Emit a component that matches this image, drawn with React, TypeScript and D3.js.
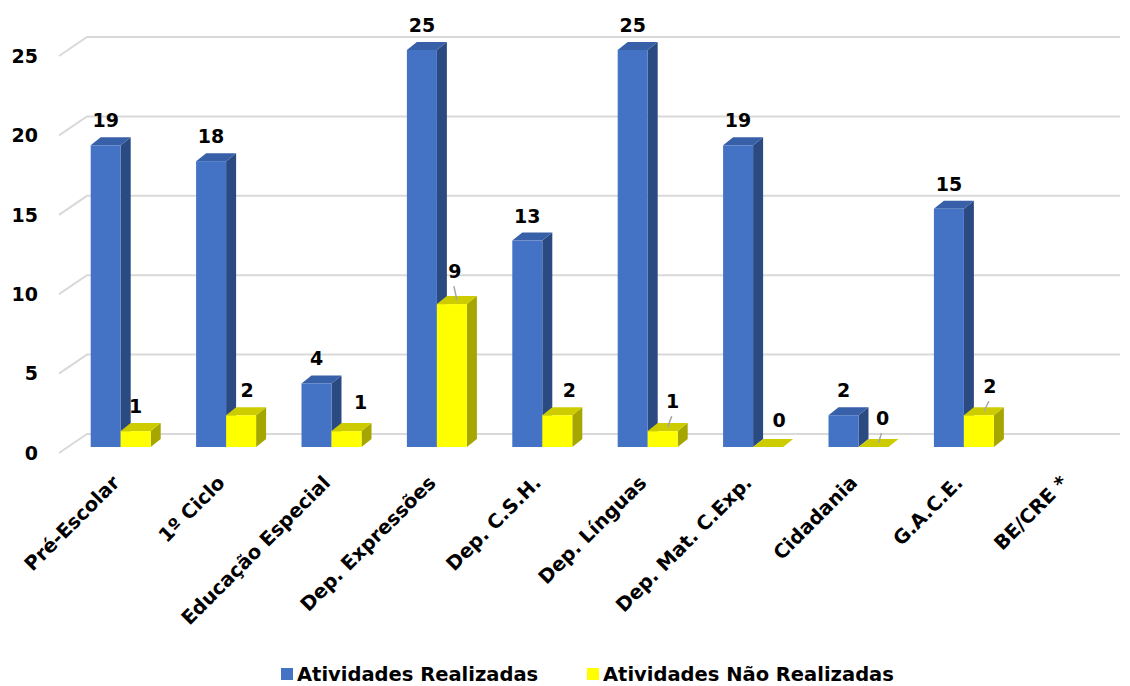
import * as d3 from 'd3';

// chart data
const CATEGORIES = [
  'Pré-Escolar',
  '1º Ciclo',
  'Educação Especial',
  'Dep. Expressões',
  'Dep. C.S.H.',
  'Dep. Línguas',
  'Dep. Mat. C.Exp.',
  'Cidadania',
  'G.A.C.E.',
  'BE/CRE *',
];
const SERIES = ['Atividades Realizadas', 'Atividades Não Realizadas'];
const REALIZADAS = [19, 18, 4, 25, 13, 25, 19, 2, 15, null];
const NAO_REALIZADAS = [1, 2, 1, 9, 2, 1, 0, 0, 2, null];
const Y_TICKS = [0, 5, 10, 15, 20, 25];

// rendering setup
const W = 1130;
const H = 686;
const FONT = "'DejaVu Sans', Verdana, sans-serif";
const DEPTH = { X: 10, Y: 8 };
const WALL = { X: 28, FRONT: 6, BACK: 13 };
const COLORS = [
  { FRONT: '#4472c4', TOP: '#3760a8', SIDE: '#2c4a82' },
  { FRONT: '#ffff00', TOP: '#cccc00', SIDE: '#a6a600' },
];
const LEGEND_X = [281, 587];
// label nudges for the yellow series (dx, dy, leader line)
const YELLOW_LABEL = [
  [0, 0, false],
  [6, 0, false],
  [14, -4, false],
  [3, -8, true],
  [12, 0, false],
  [10, -5, true],
  [11, -2, false],
  [9, -4, true],
  [11, -4, true],
  [0, 0, false],
];

const x = d3.scaleBand<string>().domain(CATEGORIES).range([68, 1122]).padding(0);
const xSub = d3.scaleBand<string>().domain(SERIES).range([0, 60]).padding(0);
const y = d3.scaleLinear().domain([0, 25]).range([447, 50]);

const Bar = ({ x0, w, v, c }: { x0: number; w: number; v: number; c: typeof COLORS[0] }) => {
  const y0 = y(0);
  const y1 = y(v);
  const top = `M${x0},${y1} L${x0 + DEPTH.X},${y1 - DEPTH.Y} L${x0 + w + DEPTH.X},${y1 - DEPTH.Y} L${x0 + w},${y1} Z`;
  const side = `M${x0 + w},${y1} L${x0 + w + DEPTH.X},${y1 - DEPTH.Y} L${x0 + w + DEPTH.X},${y0 - DEPTH.Y} L${x0 + w},${y0} Z`;
  return (
    <g>
      {v > 0 && <path d={side} fill={c.SIDE} />}
      <path d={top} fill={c.TOP} />
      {v > 0 && <rect x={x0} y={y1} width={w} height={y0 - y1} fill={c.FRONT} />}
    </g>
  );
};

export default function App() {
  const bw = x.bandwidth();
  const pad = (bw - 60) / 2;
  const sw = xSub.bandwidth();
  const seriesValues = [REALIZADAS, NAO_REALIZADAS];

  return (
    <svg width={W} height={H} style={{ display: 'block', position: 'absolute', left: 0, top: 0 }} fontFamily={FONT}>
      <rect width={W} height={H} fill="#ffffff" />
      {/* gridlines: diagonal on the side wall, then along the back wall */}
      <g stroke="#d9d9d9" strokeWidth={2} fill="none">
        {Y_TICKS.map((t) => (
          <path
            key={t}
            d={`M59,${y(t) + WALL.FRONT} L${59 + WALL.X},${y(t) - WALL.BACK} L1120,${y(t) - WALL.BACK}`}
          />
        ))}
      </g>
      <g fontSize={19} fontWeight="bold" textAnchor="end" fill="#000">
        {Y_TICKS.map((t) => (
          <text key={t} x={38} y={y(t) + WALL.FRONT} dy="0.36em">
            {t}
          </text>
        ))}
      </g>
      {/* bars */}
      {CATEGORIES.map((cat, i) => (
        <g key={cat}>
          {SERIES.map((s, k) => {
            const v = seriesValues[k][i];
            if (v === null) return null;
            return <Bar key={s} x0={(x(cat) as number) + pad + (xSub(s) as number)} w={sw} v={v} c={COLORS[k]} />;
          })}
        </g>
      ))}
      {/* value labels */}
      <g fontSize={19} fontWeight="bold" textAnchor="middle" fill="#000">
        {CATEGORIES.map((cat, i) =>
          SERIES.map((s, k) => {
            const v = seriesValues[k][i];
            if (v === null) return null;
            const fx = (x(cat) as number) + pad + (xSub(s) as number) + sw / 2;
            const [dx, dy, leader] = k === 1 ? (YELLOW_LABEL[i] as [number, number, boolean]) : [0, 0, false];
            const lx = fx + dx;
            const ly = y(v) - DEPTH.Y - 10 + dy;
            return (
              <g key={cat + s}>
                {leader && (
                  <line
                    x1={fx + DEPTH.X / 2}
                    y1={y(v) - DEPTH.Y / 2}
                    x2={lx - 1}
                    y2={ly + 8}
                    stroke="#a6a6a6"
                    strokeWidth={1.5}
                  />
                )}
                <text x={lx} y={ly}>
                  {v}
                </text>
              </g>
            );
          })
        )}
      </g>
      {/* category labels */}
      <g fontSize={19.5} fontWeight="bold" textAnchor="end" fill="#000">
        {CATEGORIES.map((cat) => {
          const cx = (x(cat) as number) + bw / 2;
          return (
            <text key={cat} transform={`translate(${cx},${484}) rotate(-45)`}>
              {cat}
            </text>
          );
        })}
      </g>
      {/* legend */}
      <g fontSize={19.5} fontWeight="bold" fill="#000">
        {SERIES.map((s, k) => (
          <g key={s} transform={`translate(${LEGEND_X[k]},668)`}>
            <rect width={12} height={12} fill={COLORS[k].FRONT} />
            <text x={16} y={13}>
              {s}
            </text>
          </g>
        ))}
      </g>
    </svg>
  );
}
